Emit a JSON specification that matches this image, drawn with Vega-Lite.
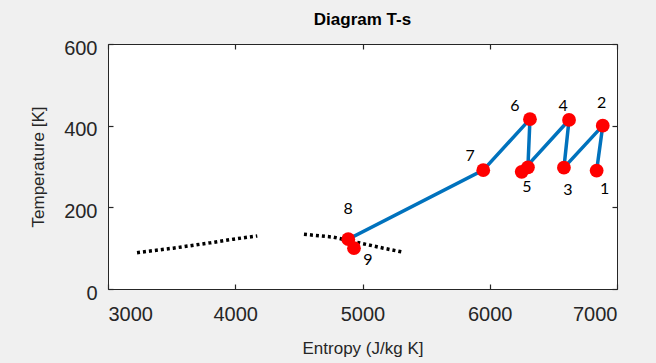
{
  "$schema": "https://vega.github.io/schema/vega-lite/v6.json",
  "width": 509,
  "height": 245,
  "autosize": {"type": "none"},
  "padding": {"left": 108, "top": 44, "right": 39, "bottom": 74},
  "background": "#f0f0f0",
  "title": {"text": "Diagram T-s", "fontSize": 17, "fontWeight": "bold", "font": "Liberation Sans", "color": "#000000", "offset": 9, "anchor": "middle"},
  "datasets": {
    "cycle": [
      {"order": 1, "label": "1", "s": 6840, "T": 290},
      {"order": 2, "label": "2", "s": 6888, "T": 400},
      {"order": 3, "label": "3", "s": 6583, "T": 297},
      {"order": 4, "label": "4", "s": 6623, "T": 414},
      {"order": 5, "label": "", "s": 6251, "T": 287},
      {"order": 6, "label": "5", "s": 6300, "T": 298},
      {"order": 7, "label": "6", "s": 6316, "T": 416},
      {"order": 8, "label": "7", "s": 5949, "T": 291},
      {"order": 9, "label": "8", "s": 4888, "T": 122},
      {"order": 10, "label": "9", "s": 4933, "T": 100}
    ],
    "dome": [
      {"branch": "liquid", "s": 3228, "T": 89},
      {"branch": "liquid", "s": 3513, "T": 100},
      {"branch": "liquid", "s": 3802, "T": 113},
      {"branch": "liquid", "s": 3985, "T": 122},
      {"branch": "liquid", "s": 4173, "T": 130},
      {"branch": "vapour", "s": 4540, "T": 134},
      {"branch": "vapour", "s": 4771, "T": 127},
      {"branch": "vapour", "s": 5164, "T": 100},
      {"branch": "vapour", "s": 5321, "T": 90}
    ]
  },
  "layer": [
    {
      "data": {"name": "dome"},
      "mark": {"type": "line", "color": "#000000", "strokeWidth": 3.5, "strokeDash": [3, 3]},
      "encoding": {
        "x": {"field": "s", "type": "quantitative", "scale": {"domain": [3000, 7000], "nice": false},
              "axis": {"orient": "top", "labels": false, "title": null, "values": [3000, 4000, 5000, 6000, 7000]}},
        "y": {"field": "T", "type": "quantitative", "scale": {"domain": [0, 600], "nice": false},
              "axis": {"orient": "right", "labels": false, "title": null, "values": [0, 200, 400, 600]}},
        "detail": {"field": "branch"}
      }
    },
    {
      "data": {"name": "cycle"},
      "mark": {"type": "line", "color": "#0072BD", "strokeWidth": 3.5},
      "encoding": {
        "x": {"field": "s", "type": "quantitative",
              "axis": {"orient": "bottom", "title": "Entropy (J/kg K]", "values": [3000, 4000, 5000, 6000, 7000], "format": "d", "labelPadding": 15.5, "titlePadding": 16}},
        "y": {"field": "T", "type": "quantitative",
              "axis": {"orient": "left", "title": "Temperature [K]", "values": [0, 200, 400, 600], "format": "d", "labelPadding": 11, "labelOffset": 4, "titlePadding": 16}},
        "order": {"field": "order"}
      }
    },
    {
      "data": {"name": "cycle"},
      "mark": {"type": "point", "filled": true, "color": "#ff0000", "size": 190, "opacity": 1},
      "encoding": {
        "x": {"field": "s", "type": "quantitative", "axis": null},
        "y": {"field": "T", "type": "quantitative", "axis": null}
      }
    },
    {"data": {"name": "cycle"}, "transform": [{"filter": "datum.label == '1'"}],
     "mark": {"type": "text", "font": "Lato", "fontSize": 16, "color": "#000000", "dx": 8, "dy": 18},
     "encoding": {"x": {"field": "s", "type": "quantitative", "axis": null}, "y": {"field": "T", "type": "quantitative", "axis": null}, "text": {"field": "label"}}},
    {"data": {"name": "cycle"}, "transform": [{"filter": "datum.label == '2'"}],
     "mark": {"type": "text", "font": "Lato", "fontSize": 16, "color": "#000000", "dx": -1, "dy": -23},
     "encoding": {"x": {"field": "s", "type": "quantitative", "axis": null}, "y": {"field": "T", "type": "quantitative", "axis": null}, "text": {"field": "label"}}},
    {"data": {"name": "cycle"}, "transform": [{"filter": "datum.label == '3'"}],
     "mark": {"type": "text", "font": "Lato", "fontSize": 16, "color": "#000000", "dx": 4, "dy": 22},
     "encoding": {"x": {"field": "s", "type": "quantitative", "axis": null}, "y": {"field": "T", "type": "quantitative", "axis": null}, "text": {"field": "label"}}},
    {"data": {"name": "cycle"}, "transform": [{"filter": "datum.label == '4'"}],
     "mark": {"type": "text", "font": "Lato", "fontSize": 16, "color": "#000000", "dx": -6, "dy": -14},
     "encoding": {"x": {"field": "s", "type": "quantitative", "axis": null}, "y": {"field": "T", "type": "quantitative", "axis": null}, "text": {"field": "label"}}},
    {"data": {"name": "cycle"}, "transform": [{"filter": "datum.label == '5'"}],
     "mark": {"type": "text", "font": "Lato", "fontSize": 16, "color": "#000000", "dx": -1, "dy": 20},
     "encoding": {"x": {"field": "s", "type": "quantitative", "axis": null}, "y": {"field": "T", "type": "quantitative", "axis": null}, "text": {"field": "label"}}},
    {"data": {"name": "cycle"}, "transform": [{"filter": "datum.label == '6'"}],
     "mark": {"type": "text", "font": "Lato", "fontSize": 16, "color": "#000000", "dx": -15, "dy": -13},
     "encoding": {"x": {"field": "s", "type": "quantitative", "axis": null}, "y": {"field": "T", "type": "quantitative", "axis": null}, "text": {"field": "label"}}},
    {"data": {"name": "cycle"}, "transform": [{"filter": "datum.label == '7'"}],
     "mark": {"type": "text", "font": "Lato", "fontSize": 16, "color": "#000000", "dx": -13, "dy": -14},
     "encoding": {"x": {"field": "s", "type": "quantitative", "axis": null}, "y": {"field": "T", "type": "quantitative", "axis": null}, "text": {"field": "label"}}},
    {"data": {"name": "cycle"}, "transform": [{"filter": "datum.label == '8'"}],
     "mark": {"type": "text", "font": "Lato", "fontSize": 16, "color": "#000000", "dx": 0, "dy": -30},
     "encoding": {"x": {"field": "s", "type": "quantitative", "axis": null}, "y": {"field": "T", "type": "quantitative", "axis": null}, "text": {"field": "label"}}},
    {"data": {"name": "cycle"}, "transform": [{"filter": "datum.label == '9'"}],
     "mark": {"type": "text", "font": "Lato", "fontSize": 16, "color": "#000000", "dx": 14, "dy": 12},
     "encoding": {"x": {"field": "s", "type": "quantitative", "axis": null}, "y": {"field": "T", "type": "quantitative", "axis": null}, "text": {"field": "label"}}}
  ],
  "resolve": {"axis": {"x": "independent", "y": "independent"}},
  "config": {
    "view": {"fill": "#ffffff", "stroke": "#262626", "strokeWidth": 1},
    "axis": {
      "grid": false, "domain": false, "ticks": true, "tickSize": 5, "offset": -5, "tickColor": "#262626", "tickWidth": 1.2, "tickOpacity": 1, "zindex": 1,
      "labelColor": "#262626", "labelFont": "Liberation Sans", "labelFontSize": 20,
      "titleFont": "Liberation Sans", "titleFontSize": 17, "titleFontWeight": "normal", "titleColor": "#262626"
    },
    "text": {"align": "center", "baseline": "middle"}
  }
}
